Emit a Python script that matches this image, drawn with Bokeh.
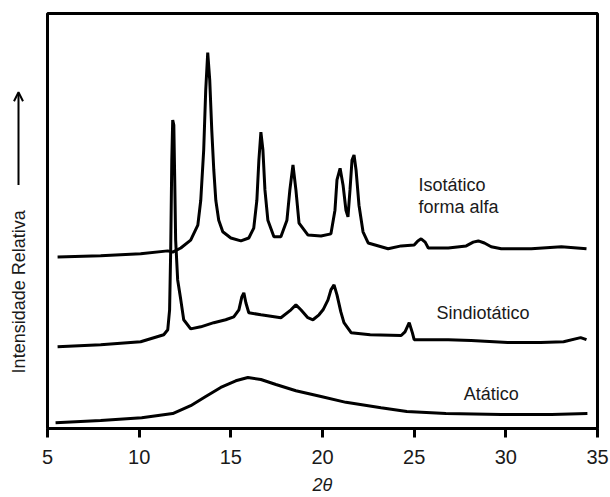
from bokeh.plotting import figure
from bokeh.layouts import row
from bokeh.models import Arrow, OpenHead, FixedTicker, Range1d, Label
from bokeh.core.properties import value
from bokeh.embed import file_html
from bokeh.resources import INLINE
import math

# ---- data (2theta in degrees, relative intensity 0-100) ----
iso_2t = [5.55, 7.90, 10.08, 11.56, 11.83, 12.27, 12.81, 13.2, 13.36, 13.52, 13.63, 13.74, 13.85,
          13.96, 14.07, 14.18, 14.34, 14.56, 15.0, 15.55, 15.98, 16.25, 16.42, 16.53, 16.64, 16.75,
          16.86, 17.02, 17.35, 17.73, 18.06, 18.22, 18.39, 18.55, 18.72, 19.21, 19.92, 20.46, 20.68,
          20.79, 20.96, 21.12, 21.28, 21.39, 21.50, 21.61, 21.72, 21.83, 21.99, 22.21, 22.49, 23.58,
          24.29, 25.0, 25.2, 25.38, 25.6, 25.77, 26.86, 27.84, 28.22, 28.50, 28.83, 29.2, 29.75,
          31.39, 33.03, 34.40]
iso_int = [41.3, 41.6, 42.1, 42.8, 42.5, 43.5, 45.4, 49.0, 55.0, 67.1, 81.5, 90.6, 83.9,
           71.9, 62.3, 55.0, 50.2, 47.4, 45.9, 45.2, 45.9, 48.3, 55.0, 64.7, 71.4, 67.1,
           57.5, 50.2, 46.2, 46.2, 50.2, 57.5, 63.5, 57.5, 49.5, 46.6, 46.4, 46.9, 52.6,
           59.9, 62.7, 58.7, 52.6, 51.0, 57.5, 64.7, 65.9, 62.3, 53.8, 47.4, 44.7, 43.3,
           44.0, 44.2, 45.2, 45.7, 44.9, 43.5, 43.5, 44.0, 44.9, 45.2, 44.7, 43.8, 43.3,
           43.3, 43.8, 43.3]

sin_2t = [5.55, 7.90, 10.08, 11.34, 11.56, 11.66, 11.72, 11.78, 11.83, 11.89, 11.94, 11.99, 12.1,
          12.27, 12.43, 12.81, 13.36, 14.07, 14.72, 15.16, 15.44, 15.60, 15.71, 15.82, 15.98, 16.64,
          17.73, 18.28, 18.55, 18.82, 19.2, 19.48, 19.81, 20.03, 20.3, 20.46, 20.63, 20.79, 21.0,
          21.17, 21.56, 22.6, 24.29, 24.5, 24.73, 24.9, 25.0, 26.86, 28.11, 30.1, 31.9, 33.15,
          34.08, 34.4]
sin_int = [19.7, 20.2, 20.9, 22.6, 23.8, 28.6, 43.0, 64.7, 74.3, 73.1, 59.9, 45.4, 35.8,
           31.0, 26.2, 24.0, 24.5, 25.5, 26.2, 26.9, 28.6, 31.7, 32.7, 30.3, 27.9, 27.4,
           26.7, 28.6, 29.8, 28.6, 26.7, 26.2, 27.4, 28.6, 31.0, 33.4, 34.6, 32.2, 28.1,
           25.5, 23.1, 22.6, 22.4, 23.3, 25.5, 23.1, 21.4, 21.4, 21.2, 20.7, 20.7, 20.9,
           21.9, 21.4]

ata_2t = [5.44, 7.9, 10.14, 11.83, 12.81, 13.63, 14.45, 15.27, 15.93, 16.64, 17.46, 18.55,
          19.92, 21.28, 23.19, 24.6, 26.73, 29.75, 32.5, 34.45]
ata_int = [1.4, 1.9, 2.6, 3.6, 5.5, 7.7, 9.9, 11.5, 12.3, 11.8, 10.6, 9.1,
           7.7, 6.3, 5.0, 4.1, 3.6, 3.4, 3.4, 3.6]

x_ticks = [5, 10, 15, 20, 25, 30, 35]

FONT = "Liberation Sans"
TXT = "#1a1a1a"

# ---- main plot ----
p = figure(width=578, height=497, output_backend="svg", toolbar_location=None,
           x_range=Range1d(5, 35), y_range=Range1d(0, 100),
           min_border_left=15, min_border_right=13, min_border_top=13, min_border_bottom=68)
p.xgrid.visible = False
p.ygrid.visible = False
p.yaxis.visible = False
p.outline_line_color = "black"
p.outline_line_width = 3
p.outline_line_alpha = 1
p.background_fill_color = "white"
p.border_fill_color = "white"

xa = p.xaxis[0]
xa.ticker = FixedTicker(ticks=x_ticks)
xa.minor_tick_line_color = None
xa.major_tick_in = 0
xa.major_tick_out = 9
xa.major_tick_line_width = 3
xa.major_tick_line_color = "black"
xa.axis_line_width = 3
xa.axis_line_color = "black"
xa.major_label_text_font = FONT
xa.major_label_text_font_size = "20px"
xa.major_label_text_color = TXT
xa.major_label_standoff = 12
xa.axis_label = "2θ"
xa.axis_label_text_font = FONT
xa.axis_label_text_font_style = "italic"
xa.axis_label_text_font_size = "18px"
xa.axis_label_text_color = TXT
xa.axis_label_standoff = 8

for xs, ys in [(iso_2t, iso_int), (sin_2t, sin_int), (ata_2t, ata_int)]:
    p.line(xs, ys, line_color="black", line_width=3)

def lab(x, y, t):
    p.add_layout(Label(x=x, y=y, text=t, text_font=FONT, text_font_size="18px",
                       text_color=TXT, text_baseline="middle", text_align="left"))

lab(25.24, 58.7, "Isotático")
lab(25.24, 53.4, "forma alfa")
lab(26.22, 27.9, "Sindiotático")
lab(27.7, 8.2, "Atático")

# ---- left strip holding the rotated y title and its arrow (page-pixel coordinates, y down) ----
lp = figure(width=32, height=497, output_backend="svg", toolbar_location=None,
            x_range=Range1d(0, 32), y_range=Range1d(429, 13),
            min_border_left=0, min_border_right=0, min_border_top=13, min_border_bottom=68)
lp.axis.visible = False
lp.grid.visible = False
lp.outline_line_color = None
lp.background_fill_color = "white"
lp.border_fill_color = "white"
lp.text(x=[18], y=[292], text=["Intensidade Relativa"], angle=math.pi / 2,
        text_align="center", text_baseline="middle", text_font=value(FONT),
        text_font_size="18px", text_color=TXT)
lp.add_layout(Arrow(x_start=18, y_start=185, x_end=18, y_end=92,
                    line_color="black", line_width=2,
                    end=OpenHead(size=9, line_width=2, line_color="black")))

layout = row(lp, p, spacing=0)
open("out.html", "w").write(file_html(layout, INLINE))
